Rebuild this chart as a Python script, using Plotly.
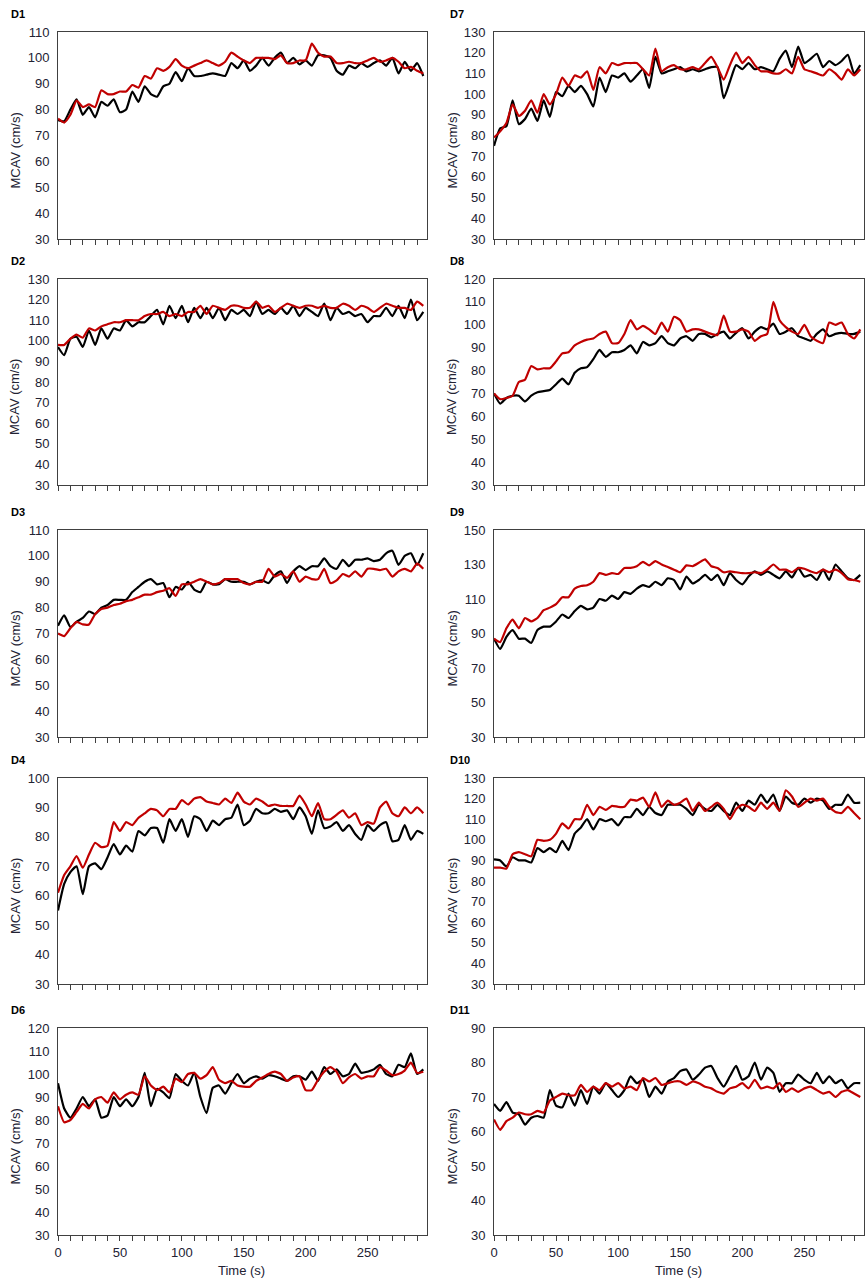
import plotly.graph_objects as go

W, H = 866, 1283

# sampling grid (s) and x-axis ticks
time_s = list(range(0, 300, 5))
x_minor_ticks = list(range(0, 300, 10))
x_tick_labels = ["0", "50", "100", "150", "200", "250"]

# MCAV (cm/s) per subject: black trace (_k) and red trace (_r)
d1_k = [76, 75.5, 80, 84, 78, 81, 77, 83, 81.5, 84,
        79, 80, 87, 83, 89, 86, 85, 89, 90, 94.5,
        91, 96, 93, 93, 93.5, 94, 93.5, 93, 98, 96,
        99, 95, 97, 100, 97, 100, 102, 98, 100, 97.5,
        99, 97, 101, 101, 100, 95, 93.5, 97, 96, 98,
        96.5, 98, 99, 97, 100, 94, 98.5, 95, 98, 93]
d1_r = [76.5, 75, 78, 83.5, 81, 82, 81, 87.5, 86, 86,
        87, 87, 89.5, 88.5, 93, 92, 96, 95, 96.5, 99.5,
        97, 96, 97, 98, 99, 98, 97, 98.5, 102, 100.5,
        99, 98, 100, 100, 100, 99.5, 101, 98, 98, 99,
        99, 105.5, 102, 100.5, 100.5, 98, 98, 98.5, 98, 98,
        99, 100, 98.5, 99, 100, 98.5, 96, 96.5, 95, 94]

d2_k = [97, 93, 101, 102, 97, 105, 98, 106, 101, 106,
        105, 110, 107, 109, 109, 112, 115, 108, 117, 111,
        117, 109, 116, 111, 116, 111, 116, 110, 115, 113,
        115, 112, 119, 113, 115, 113, 116, 113, 117, 112,
        116, 114, 112, 118, 110, 116, 113, 114, 112, 113,
        109, 112, 112, 116, 112, 117, 111, 120, 110, 114]
d2_r = [98, 98, 101, 103, 101.5, 106, 105, 107, 108, 109,
        109, 110, 110, 110, 112, 113, 113, 114, 112, 113,
        112, 114, 114, 117, 113, 117, 116, 115, 117, 117,
        116, 116, 119, 116, 117, 114, 116, 118, 117, 116,
        117, 117, 116, 117, 116, 116, 118, 117, 115, 117,
        116, 114, 116, 118, 117, 116, 116, 115, 119, 117]

d3_k = [73, 77, 72.5, 74.5, 76, 78.5, 77.5, 80, 81, 83,
        83, 83, 86, 88, 90, 91, 89, 89.5, 84, 88,
        87, 90, 87, 86, 90, 89, 89, 91, 90, 90,
        90, 89, 90, 90.5, 89.5, 92.5, 94, 89.5, 94, 96,
        94.5, 96, 96, 99, 96, 95, 98.5, 96, 98.5, 98.5,
        99, 98, 98.5, 101, 102, 96.5, 100, 101, 96.5, 101]
d3_r = [70, 69, 72, 74.5, 73.5, 73.5, 77.5, 79.5, 80, 81,
        81.5, 82.5, 83, 84, 85, 85, 86, 86.5, 87.5, 84.5,
        89, 89, 90, 91, 90, 89, 89.5, 91, 91, 91,
        89.5, 89, 90, 90, 95, 92, 93, 91.5, 94, 90,
        92, 91, 91, 95, 89.5, 90.5, 93, 92, 94, 92,
        95, 95, 94.5, 95, 92, 94, 95, 94, 97, 95]

d4_k = [55, 64, 68, 70, 60.5, 70, 71, 69, 73, 77.5,
        74, 77, 75, 82, 80.5, 83, 83, 78, 86, 82,
        86, 80, 87, 86, 82, 85.5, 84, 86, 86.5, 91,
        84, 85.5, 89.5, 88, 88, 89.5, 88.5, 89, 86, 90,
        87, 81, 89, 83, 83.5, 85, 82, 84, 81, 79,
        84, 82, 84, 85, 78.5, 79, 84, 79, 82, 81]
d4_r = [61, 67, 70, 73.5, 69.5, 74, 78, 76.5, 77, 85,
        82, 85, 84, 86.5, 88, 89.5, 89, 87, 89.5, 89.5,
        92.5, 91, 93, 93.5, 92, 91.5, 91, 93, 91.5, 95,
        92, 91, 93, 92, 90.5, 91, 90.5, 90.5, 90.5, 94,
        91, 87, 91.5, 86, 86, 87.5, 89, 86.5, 88, 84,
        85, 84.5, 90, 92, 88, 87, 90, 88, 90, 88]

d6_k = [96, 85, 81, 85, 90, 86, 89, 81, 82, 90,
        86, 89, 86, 90, 100.5, 86, 93.5, 92, 89.5, 100,
        97, 95, 100.5, 90, 83, 94, 95, 91.5, 96, 100,
        96, 98, 99, 98, 99.5, 99, 98, 97, 99, 99,
        97.5, 101, 97, 103, 100, 102, 99, 100, 104.5, 100.5,
        101, 102, 104, 100, 99, 104, 103, 109, 100, 102]
d6_r = [86, 79, 80, 83.5, 87, 85, 89, 90, 87.5, 92,
        89, 91, 92, 91, 99, 95, 93, 94.5, 92, 98,
        96.5, 100, 100.5, 98, 99.5, 103, 97.5, 96, 97, 95,
        94.5, 94.5, 97, 98.5, 100, 101, 100, 97, 98.5, 99,
        93, 93, 97.5, 101, 103, 101, 96, 98.5, 100, 98,
        99, 99, 103, 101.5, 99.5, 100, 101.5, 105, 100.5, 101]

d7_k = [75, 83.5, 84.5, 97, 85.5, 88, 93, 87, 97, 89,
        101, 99, 104, 101, 104, 100, 94, 108, 101, 109,
        108, 110, 106, 109, 112, 103, 118, 110, 111, 112,
        113, 111, 112, 111, 112, 113, 113, 98, 106, 114,
        112, 115, 112, 113, 112, 111, 117, 121, 113, 123,
        115, 117, 119.5, 113, 116, 114, 116, 119, 110, 114]
d7_r = [79, 82, 86, 95, 89.5, 92, 97, 91, 100, 95,
        100, 108, 104, 109, 108, 111, 102, 113, 110, 115,
        114, 115, 115, 115, 112, 109, 122, 111, 113, 114,
        112, 112, 113, 112, 115, 118, 113, 107, 114, 120,
        115, 118, 114, 111, 111, 110, 110, 112, 110, 118,
        112, 111, 110, 109, 112, 110, 107, 112, 109, 112]

d8_k = [70, 65.5, 68, 69, 69, 66.5, 69, 70.5, 71, 71.5,
        74, 76.5, 74, 79, 81, 81.5, 85, 89, 86, 88,
        88, 89, 91, 87.5, 92.5, 91, 92, 95, 92, 91,
        94, 95, 93, 96, 96, 94.5, 96, 97, 94, 96.5,
        98.5, 94, 97, 99, 98, 100.5, 96, 97, 98.5, 95,
        94, 93, 96, 98, 95, 96, 96.5, 96, 96, 97]
d8_r = [70, 67.5, 68, 69, 75, 76, 82, 80.5, 81, 81,
        84, 87.5, 88, 91, 92.5, 93.5, 94, 96, 97, 92,
        92, 96, 102, 98, 99.5, 98, 96, 101, 97, 103.5,
        102, 97, 98, 98, 97, 96, 95.5, 104, 97, 97,
        98, 97, 93, 95, 96, 110, 102, 99, 97, 96,
        100, 95, 93, 92, 101, 100, 101, 96, 94, 98]

d9_k = [87, 81, 88, 92, 87, 87, 84.5, 92, 94, 94,
        97, 101, 99, 103, 106, 104, 105, 110, 109, 112,
        110, 114, 113, 116, 118, 117, 120, 118, 122, 121,
        115.5, 123, 119, 121, 124, 121, 124, 118, 125, 121,
        118.5, 123, 126, 124, 126, 124, 122, 126, 122.5, 128,
        123, 124, 121, 127, 121, 130, 126, 122, 121, 124]
d9_r = [87, 85, 93, 98, 93, 99, 97, 99, 103.5, 105,
        107, 111, 111, 116, 117.5, 118, 120, 125, 124, 125,
        124.5, 128, 128, 129, 131.5, 129.5, 132, 130, 128.5, 127,
        125.5, 129.5, 129, 131, 133, 129, 128, 125.5, 126, 125.5,
        125, 125, 125.5, 125, 127, 130, 127, 127, 125.5, 128,
        127.5, 126, 125, 127, 125.5, 127, 125, 121.5, 121, 120]

d10_k = [90.5, 90, 87, 91.5, 90, 90, 89, 96, 94, 96,
         94, 99.5, 95, 103, 106, 110, 105, 110, 109, 110,
         107, 111, 111, 115, 112, 116, 113, 112, 117, 117,
         117, 115, 112, 117, 115, 114, 117, 114, 112, 118,
         114, 119, 117, 122, 118, 122, 114, 121, 118, 117,
         120, 118, 120, 119, 115, 117, 117, 122, 118, 118]
d10_r = [86.5, 86.5, 86, 93, 94, 93, 92, 100, 99.5, 100,
         103, 108, 105.5, 110, 110, 117, 112, 116, 114.5, 116.5,
         116, 116, 119.5, 119, 120.5, 116, 123, 116, 119, 117,
         118, 120, 114, 118, 114, 116, 118, 115, 110, 115,
         117, 116, 114, 118, 115, 118, 114, 124, 121, 116,
         118, 120, 119, 120, 116, 113.5, 113, 116, 113, 110]

d11_k = [68, 66, 68.5, 65.5, 65, 62, 64, 64.5, 64, 72,
         67.5, 67, 71, 67.5, 72, 68, 73, 71, 74, 72,
         70, 72, 76, 74, 75, 70, 73, 71, 74.5, 75.5,
         77.5, 78, 75, 76.5, 78.5, 79, 75.5, 73, 76, 79,
         75, 76, 80, 75, 78.5, 77, 71.5, 74, 74, 76.5,
         75, 74, 77, 74, 76, 74, 75, 72.5, 74, 74]
d11_r = [63.5, 60.5, 63, 64, 65.5, 65, 65, 66, 65.5, 69,
         70, 71, 70.5, 70.5, 73.5, 71.5, 73, 72, 74, 73,
         74, 72.5, 73, 72, 75.5, 74.5, 75.5, 73.5, 74, 74.5,
         74.5, 73.5, 74.5, 74, 73, 72.5, 71.5, 71, 72.5, 73,
         74, 72.5, 75, 72.5, 73, 72.5, 74, 71.5, 72.5, 71.5,
         72.5, 73, 72, 71, 71.5, 70, 71.5, 72, 71, 70]

# panel label, black series, red series, y max, y step, column, row
panels = [
    ("D1", d1_k, d1_r, 110, 10, 0, 0),
    ("D2", d2_k, d2_r, 130, 10, 0, 1),
    ("D3", d3_k, d3_r, 110, 10, 0, 2),
    ("D4", d4_k, d4_r, 100, 10, 0, 3),
    ("D6", d6_k, d6_r, 120, 10, 0, 4),
    ("D7", d7_k, d7_r, 130, 10, 1, 0),
    ("D8", d8_k, d8_r, 120, 10, 1, 1),
    ("D9", d9_k, d9_r, 150, 20, 1, 2),
    ("D10", d10_k, d10_r, 130, 10, 1, 3),
    ("D11", d11_k, d11_r, 90, 10, 1, 4),
]

# plot-area boxes in pixels
col_px = [(58, 427), (494, 864)]
row_px = [(32, 239), (279, 485), (530, 737), (778, 984), (1028, 1235)]
label_x_px = [9, 448]
ytitle_x_px = [15, 452]

FONT = "Liberation Sans"
TXT = "#222233"
FRAME = "#404040"
BLACK = "#000000"
RED = "#C00000"

fig = go.Figure()
layout = dict(
    template="none",
    width=W, height=H,
    margin=dict(l=0, r=0, t=0, b=0, pad=0),
    paper_bgcolor="white", plot_bgcolor="white",
    showlegend=False,
    font=dict(family=FONT, size=13, color=TXT),
)
annotations = []

for i, (label, black, red, ymax, ystep, col, row) in enumerate(panels, start=1):
    xs = "x" if i == 1 else f"x{i}"
    ys = "y" if i == 1 else f"y{i}"
    xk = "xaxis" if i == 1 else f"xaxis{i}"
    yk = "yaxis" if i == 1 else f"yaxis{i}"
    x0, x1 = col_px[col]
    y0, y1 = row_px[row]
    bottom = row == 4

    fig.add_trace(go.Scatter(x=time_s, y=black, mode="lines", xaxis=xs, yaxis=ys,
                             line=dict(color=BLACK, width=2.2, shape="spline", smoothing=0.5),
                             hoverinfo="skip"))
    fig.add_trace(go.Scatter(x=time_s, y=red, mode="lines", xaxis=xs, yaxis=ys,
                             line=dict(color=RED, width=2.2, shape="spline", smoothing=0.5),
                             hoverinfo="skip"))

    ticktext = [str(v) if (bottom and str(v) in x_tick_labels) else "" for v in x_minor_ticks]
    layout[xk] = dict(
        domain=[x0 / W, x1 / W], anchor=ys, range=[0, 298], automargin=False,
        tickmode="array", tickvals=x_minor_ticks, ticktext=ticktext,
        ticks="outside", ticklen=5, tickwidth=1, tickcolor=FRAME,
        showline=True, linecolor=FRAME, linewidth=1, mirror=True,
        showgrid=False, zeroline=False,
        tickfont=dict(family=FONT, size=13, color=TXT),
    )
    layout[yk] = dict(
        domain=[1 - y1 / H, 1 - y0 / H], anchor=xs, range=[30, ymax], automargin=False,
        tickmode="linear", tick0=30, dtick=ystep,
        ticks="", ticklabelstandoff=5,
        showline=True, linecolor=FRAME, linewidth=1, mirror=True,
        showgrid=False, zeroline=False,
        tickfont=dict(family=FONT, size=13, color=TXT),
    )

    # panel label above the plot area
    annotations.append(dict(
        text=f"<b>{label}</b>", x=label_x_px[col] / W, y=1 - (y0 - 18) / H,
        xref="paper", yref="paper", xanchor="left", yanchor="middle",
        showarrow=False, font=dict(family=FONT, size=11, color="#000000"),
    ))
    # y-axis title
    annotations.append(dict(
        text="MCAV (cm/s)", x=ytitle_x_px[col] / W, y=1 - ((y0 + y1) / 2 + 15) / H,
        xref="paper", yref="paper", xanchor="center", yanchor="middle",
        textangle=-90, showarrow=False, font=dict(family=FONT, size=13, color=TXT),
    ))
    if bottom:
        annotations.append(dict(
            text="Time (s)", x=((x0 + x1) / 2 - 1) / W, y=1 - 1270 / H,
            xref="paper", yref="paper", xanchor="center", yanchor="middle",
            showarrow=False, font=dict(family=FONT, size=13, color=TXT),
        ))

layout["annotations"] = annotations
fig.update_layout(**layout)
fig.write_html("out.html")
